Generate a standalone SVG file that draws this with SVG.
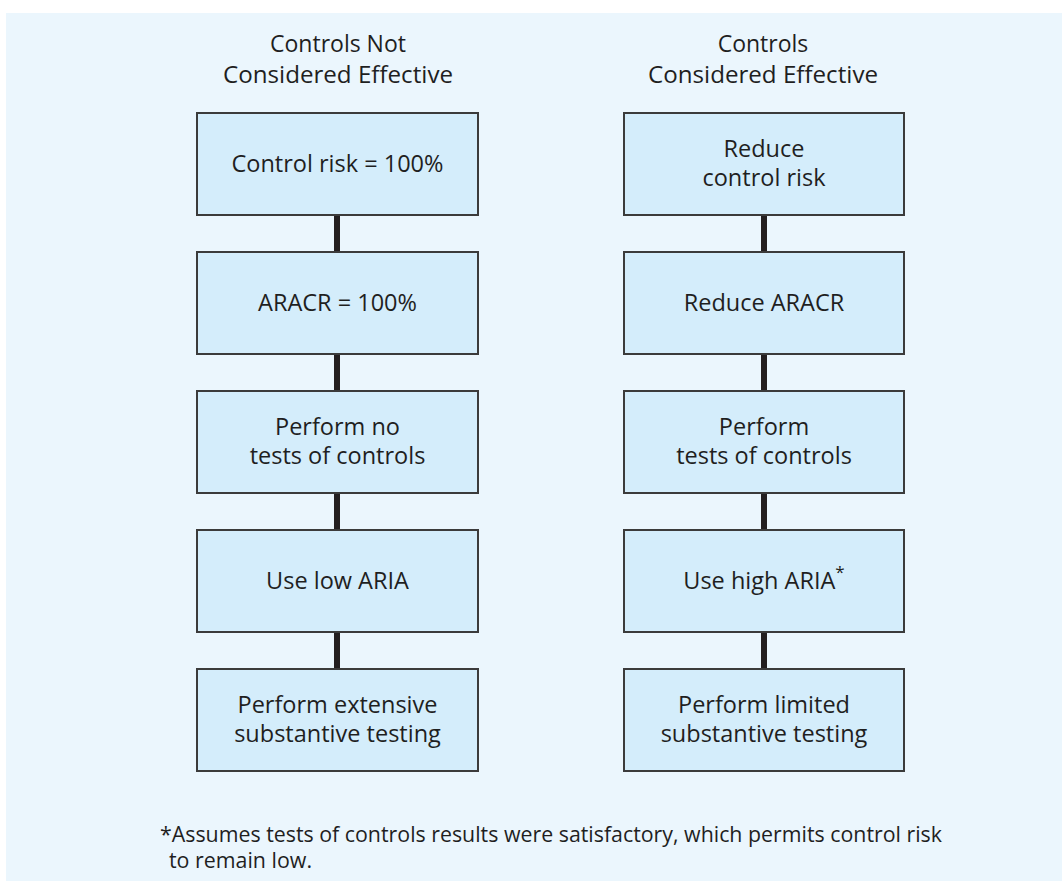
<svg xmlns="http://www.w3.org/2000/svg" width="1062" height="881" viewBox="0 0 1062 881">
<style>
  .bg { fill: #ebf6fd; }
  .box { fill: #d4edfb; stroke: #3b3b3b; stroke-width: 2; }
  .t { font-family: "Open Sans", "Noto Sans", sans-serif; font-size: 23.5px; fill: #1f1f1f; text-anchor: middle; }
  .h { font-family: "Open Sans", "Noto Sans", sans-serif; font-size: 23px; fill: #1f1f1f; text-anchor: middle; }
  .fn { font-family: "Open Sans", "Noto Sans", sans-serif; font-size: 21px; fill: #1f1f1f; }
  .conn { stroke: #231f20; stroke-width: 6; fill: none; }
</style>
<rect x="0" y="0" width="1062" height="881" fill="#ffffff"/>
<rect class="bg" x="6" y="13" width="1056" height="868"/>

<g id="header-left">
  <text class="h" x="338" y="52">Controls Not</text>
  <text class="h" x="338" y="83" textLength="230" lengthAdjust="spacingAndGlyphs">Considered Effective</text>
</g>
<g id="header-right">
  <text class="h" x="763" y="52">Controls</text>
  <text class="h" x="763" y="83" textLength="230" lengthAdjust="spacingAndGlyphs">Considered Effective</text>
</g>

<g id="connectors">
  <line class="conn" x1="337" y1="215" x2="337" y2="252"/>
  <line class="conn" x1="337" y1="354" x2="337" y2="391"/>
  <line class="conn" x1="337" y1="493" x2="337" y2="530"/>
  <line class="conn" x1="337" y1="632" x2="337" y2="669"/>
  <line class="conn" x1="764" y1="215" x2="764" y2="252"/>
  <line class="conn" x1="764" y1="354" x2="764" y2="391"/>
  <line class="conn" x1="764" y1="493" x2="764" y2="530"/>
  <line class="conn" x1="764" y1="632" x2="764" y2="669"/>
</g>

<g id="L1"><rect class="box" x="197" y="113" width="281" height="102"/><text class="t" x="337.5" y="172">Control risk = 100%</text></g>
<g id="L2"><rect class="box" x="197" y="252" width="281" height="102"/><text class="t" x="337.5" y="311">ARACR = 100%</text></g>
<g id="L3"><rect class="box" x="197" y="391" width="281" height="102"/><text class="t" x="337.5" y="435">Perform no</text><text class="t" x="337.5" y="464">tests of controls</text></g>
<g id="L4"><rect class="box" x="197" y="530" width="281" height="102"/><text class="t" x="337.5" y="589">Use low ARIA</text></g>
<g id="L5"><rect class="box" x="197" y="669" width="281" height="102"/><text class="t" x="337.5" y="713">Perform extensive</text><text class="t" x="337.5" y="742">substantive testing</text></g>

<g id="R1"><rect class="box" x="624" y="113" width="280" height="102"/><text class="t" x="764" y="157">Reduce</text><text class="t" x="764" y="186">control risk</text></g>
<g id="R2"><rect class="box" x="624" y="252" width="280" height="102"/><text class="t" x="764" y="311">Reduce ARACR</text></g>
<g id="R3"><rect class="box" x="624" y="391" width="280" height="102"/><text class="t" x="764" y="435">Perform</text><text class="t" x="764" y="464">tests of controls</text></g>
<g id="R4"><rect class="box" x="624" y="530" width="280" height="102"/><text class="t" x="764" y="589">Use high ARIA<tspan font-size="17" dy="-11">*</tspan></text></g>
<g id="R5"><rect class="box" x="624" y="669" width="280" height="102"/><text class="t" x="764" y="713">Perform limited</text><text class="t" x="764" y="742">substantive testing</text></g>

<g id="footnote">
  <text class="fn" x="160" y="842" textLength="782" lengthAdjust="spacingAndGlyphs">*Assumes tests of controls results were satisfactory, which permits control risk</text>
  <text class="fn" x="169" y="868" textLength="143" lengthAdjust="spacingAndGlyphs">to remain low.</text>
</g>
</svg>
